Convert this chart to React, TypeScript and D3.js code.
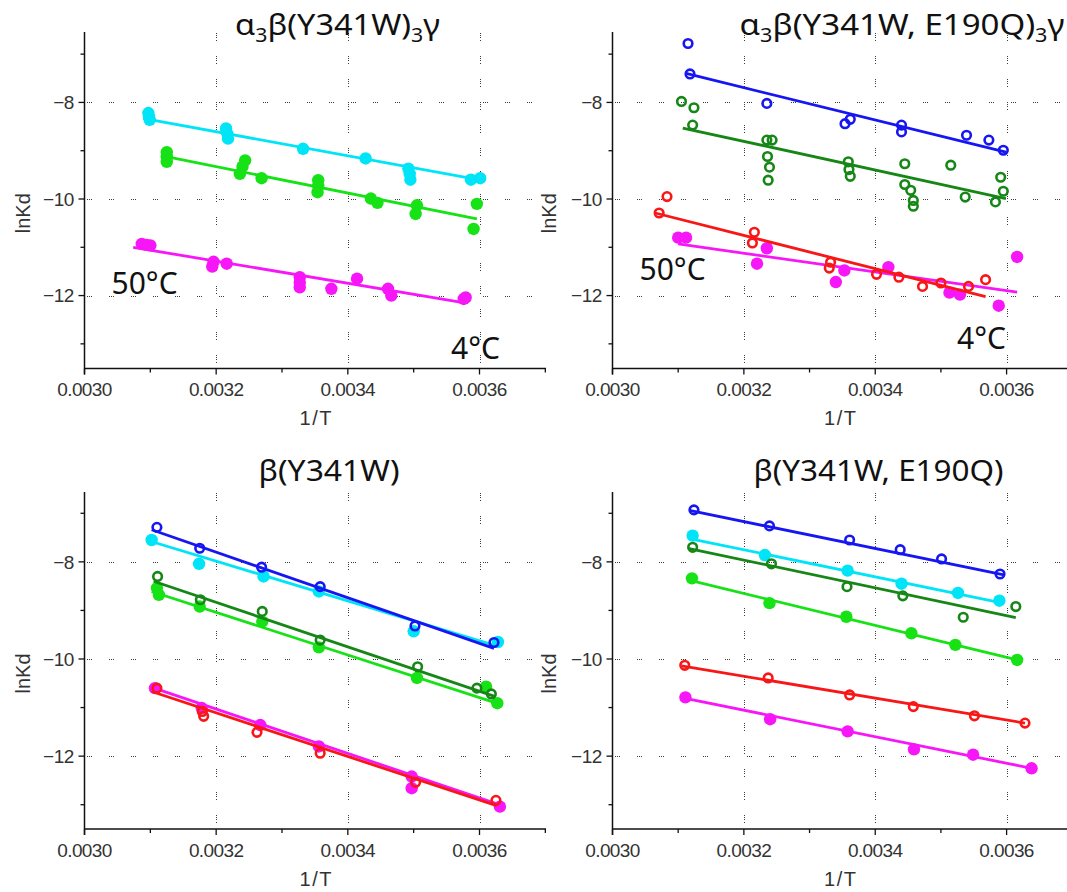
import React from "react";
import * as d3 from "d3";

type Pt = [number, number];

// ---------- axis ticks ----------
const xTicksMajor = [0.003, 0.0032, 0.0034, 0.0036];
const xTickLabels = ["0.0030", "0.0032", "0.0034", "0.0036"];
const xTicksMinor = [0.0031, 0.0033, 0.0035, 0.0037];
const yTicksMajor = [-8, -10, -12];
const yTickLabels = ["\u22128", "\u221210", "\u221212"];
const yTicksMinor = [-7, -9, -11, -13];
const xGrid = [0.0032, 0.0034, 0.0036];
const yGrid = [-8, -10, -12];
const xDomain: Pt = [0.003, 0.0036];
const yDomain: Pt = [-13.5, -6.5];

// ---------- panel 1: a3b(Y341W)3g ----------
const p1Cyan: Pt[] = [[0.003097, -8.22], [0.003098, -8.3], [0.003099, -8.36], [0.003215, -8.54], [0.003217, -8.65], [0.003218, -8.75], [0.003332, -8.96], [0.003427, -9.16], [0.003492, -9.37], [0.003494, -9.48], [0.003495, -9.6], [0.003587, -9.6], [0.003601, -9.57]];
const p1CyanFit: Pt[] = [[0.003089, -8.33], [0.003602, -9.61]];
const p1Green: Pt[] = [[0.003125, -9.03], [0.003125, -9.13], [0.003125, -9.23], [0.003244, -9.2], [0.00324, -9.33], [0.003236, -9.48], [0.003269, -9.57], [0.003355, -9.61], [0.003355, -9.73], [0.003354, -9.86], [0.003435, -9.99], [0.003445, -10.08], [0.003505, -10.13], [0.003503, -10.31], [0.003596, -10.1], [0.003591, -10.62]];
const p1GreenFit: Pt[] = [[0.00313, -9.14], [0.003596, -10.41]];
const p1Magenta: Pt[] = [[0.003087, -10.93], [0.003094, -10.95], [0.0031, -10.96], [0.003196, -11.3], [0.003194, -11.4], [0.003216, -11.34], [0.003327, -11.62], [0.003327, -11.73], [0.003327, -11.83], [0.003375, -11.86], [0.003414, -11.65], [0.003461, -11.86], [0.003466, -12.0], [0.003576, -12.07], [0.003579, -12.04]];
const p1MagentaFit: Pt[] = [[0.003074, -11.0], [0.003573, -12.14]];

// ---------- panel 2: a3b(Y341W, E190Q)3g ----------
const p2Blue: Pt[] = [[0.003115, -6.78], [0.003118, -7.41], [0.003235, -8.02], [0.003354, -8.44], [0.003362, -8.35], [0.00344, -8.47], [0.00344, -8.61], [0.003539, -8.68], [0.003573, -8.78], [0.003595, -8.99]];
const p2BlueFit: Pt[] = [[0.003112, -7.4], [0.003599, -9.03]];
const p2DarkGreen: Pt[] = [[0.003105, -7.98], [0.003124, -8.11], [0.003122, -8.47], [0.003235, -8.78], [0.003243, -8.78], [0.003236, -9.12], [0.003239, -9.34], [0.003237, -9.61], [0.003359, -9.23], [0.00336, -9.39], [0.003362, -9.53], [0.003445, -9.27], [0.003445, -9.7], [0.003454, -9.82], [0.003458, -10.03], [0.003458, -10.15], [0.003515, -9.3], [0.003537, -9.96], [0.003583, -10.06], [0.003591, -9.55], [0.003595, -9.84]];
const p2DarkGreenFit: Pt[] = [[0.003107, -8.53], [0.003599, -9.99]];
const p2Red: Pt[] = [[0.003083, -9.95], [0.003071, -10.29], [0.003216, -10.69], [0.003213, -10.91], [0.003332, -11.31], [0.00333, -11.43], [0.003402, -11.56], [0.003436, -11.62], [0.003472, -11.81], [0.0035, -11.74], [0.003542, -11.81], [0.003568, -11.67]];
const p2RedFit: Pt[] = [[0.003065, -10.29], [0.003568, -12.02]];
const p2Magenta: Pt[] = [[0.0031, -10.8], [0.003112, -10.8], [0.00322, -11.34], [0.003235, -11.02], [0.00334, -11.72], [0.003353, -11.48], [0.00342, -11.41], [0.003513, -11.94], [0.003529, -11.98], [0.003588, -12.21], [0.003616, -11.2]];
const p2MagentaFit: Pt[] = [[0.0031, -10.93], [0.003616, -11.93]];

// ---------- panel 3: b(Y341W) ----------
const p3Cyan: Pt[] = [[0.003102, -7.55], [0.003174, -8.04], [0.003272, -8.3], [0.003356, -8.61], [0.0035, -9.43], [0.003628, -9.65]];
const p3CyanFit: Pt[] = [[0.003094, -7.55], [0.003628, -9.74]];
const p3Blue: Pt[] = [[0.00311, -7.29], [0.003175, -7.72], [0.003269, -8.11], [0.003358, -8.51], [0.003502, -9.32], [0.003622, -9.66]];
const p3BlueFit: Pt[] = [[0.003102, -7.34], [0.003622, -9.78]];
const p3Green: Pt[] = [[0.00311, -8.54], [0.003113, -8.68], [0.003175, -8.92], [0.00327, -9.23], [0.003356, -9.76], [0.003505, -10.39], [0.00361, -10.57], [0.003627, -10.91]];
const p3GreenFit: Pt[] = [[0.003102, -8.61], [0.003626, -10.91]];
const p3DarkGreen: Pt[] = [[0.003111, -8.3], [0.003176, -8.78], [0.00327, -9.02], [0.003358, -9.61], [0.003506, -10.16], [0.003596, -10.6], [0.003618, -10.72]];
const p3DarkGreenFit: Pt[] = [[0.003105, -8.4], [0.003623, -10.77]];
const p3Magenta: Pt[] = [[0.003107, -10.6], [0.003178, -11.01], [0.003267, -11.36], [0.003356, -11.8], [0.003497, -12.42], [0.003497, -12.66], [0.003631, -13.04]];
const p3MagentaFit: Pt[] = [[0.003099, -10.57], [0.003631, -13.0]];
const p3Red: Pt[] = [[0.00311, -10.6], [0.003181, -11.18], [0.003179, -11.08], [0.003262, -11.51], [0.003358, -11.94], [0.003503, -12.54], [0.003625, -12.91]];
const p3RedFit: Pt[] = [[0.003102, -10.67], [0.003626, -13.02]];

// ---------- panel 4: b(Y341W, E190Q) ----------
const p4Blue: Pt[] = [[0.003124, -6.93], [0.003239, -7.26], [0.003361, -7.55], [0.003438, -7.75], [0.003501, -7.94], [0.00359, -8.25]];
const p4BlueFit: Pt[] = [[0.003117, -6.94], [0.003596, -8.27]];
const p4Cyan: Pt[] = [[0.003122, -7.46], [0.003232, -7.86], [0.003358, -8.18], [0.00344, -8.45], [0.003526, -8.64], [0.003589, -8.8]];
const p4CyanFit: Pt[] = [[0.003117, -7.52], [0.003594, -8.85]];
const p4DarkGreen: Pt[] = [[0.003122, -7.7], [0.003242, -8.04], [0.003357, -8.51], [0.003442, -8.7], [0.003534, -9.14], [0.003614, -8.92]];
const p4DarkGreenFit: Pt[] = [[0.003115, -7.72], [0.003614, -9.15]];
const p4Green: Pt[] = [[0.003121, -8.34], [0.003239, -8.85], [0.003356, -9.13], [0.003455, -9.47], [0.003522, -9.71], [0.003616, -10.02]];
const p4GreenFit: Pt[] = [[0.003115, -8.37], [0.003616, -10.02]];
const p4Red: Pt[] = [[0.00311, -10.13], [0.003237, -10.39], [0.003361, -10.74], [0.003458, -10.98], [0.003551, -11.17], [0.003628, -11.32]];
const p4RedFit: Pt[] = [[0.003105, -10.14], [0.003628, -11.32]];
const p4Magenta: Pt[] = [[0.003111, -10.79], [0.00324, -11.24], [0.003358, -11.49], [0.003459, -11.86], [0.003549, -11.97], [0.003638, -12.25]];
const p4MagentaFit: Pt[] = [[0.003111, -10.81], [0.003638, -12.25]];

// ---------- titles ----------
const title1: [string, boolean][] = [["\u03b1", false], ["3", true], ["\u03b2(Y341W)", false], ["3", true], ["\u03b3", false]];
const title2: [string, boolean][] = [["\u03b1", false], ["3", true], ["\u03b2(Y341W, E190Q)", false], ["3", true], ["\u03b3", false]];
const title3: [string, boolean][] = [["\u03b2(Y341W)", false]];
const title4: [string, boolean][] = [["\u03b2(Y341W, E190Q)", false]];

const C = {
  cyan: "#00e4f8",
  green: "#16e216",
  magenta: "#f716f7",
  blue: "#1616f2",
  darkGreen: "#168716",
  red: "#f81616",
};

type Series = { pts: Pt[]; fit: Pt[]; color: string; filled: boolean };

type Panel = {
  title: [string, boolean][];
  titleX: number;
  titleY: number;
  titleW: number;
  left: number;
  x36: number;
  right: number;
  top: number;
  bottom: number;
  yRange: Pt;
  labelX: number;
  series: Series[];
  hot?: { x: number; y: number };
  cold?: { x: number; y: number };
};

const panels: Panel[] = [
  {
    title: title1, titleX: 337.5, titleY: 34.5, titleW: 205,
    left: 84.5, x36: 479.5, right: 546, top: 32, bottom: 368.5, yRange: [368, 30], labelX: 22.5,
    series: [
      { pts: p1Cyan, fit: p1CyanFit, color: C.cyan, filled: true },
      { pts: p1Green, fit: p1GreenFit, color: C.green, filled: true },
      { pts: p1Magenta, fit: p1MagentaFit, color: C.magenta, filled: true },
    ],
    hot: { x: 111.5, y: 293.5 },
    cold: { x: 500, y: 358.5 },
  },
  {
    title: title2, titleX: 902, titleY: 34.5, titleW: 325,
    left: 612.5, x36: 1006.6, right: 1067, top: 32, bottom: 368.5, yRange: [368, 30], labelX: 549,
    series: [
      { pts: p2Blue, fit: p2BlueFit, color: C.blue, filled: false },
      { pts: p2DarkGreen, fit: p2DarkGreenFit, color: C.darkGreen, filled: false },
      { pts: p2Magenta, fit: p2MagentaFit, color: C.magenta, filled: true },
      { pts: p2Red, fit: p2RedFit, color: C.red, filled: false },
    ],
    hot: { x: 639.5, y: 280 },
    cold: { x: 1006, y: 348.5 },
  },
  {
    title: title3, titleX: 329, titleY: 481, titleW: 141,
    left: 84.5, x36: 479.5, right: 546, top: 492, bottom: 829, yRange: [829, 489], labelX: 22.5,
    series: [
      { pts: p3Cyan, fit: p3CyanFit, color: C.cyan, filled: true },
      { pts: p3Blue, fit: p3BlueFit, color: C.blue, filled: false },
      { pts: p3Green, fit: p3GreenFit, color: C.green, filled: true },
      { pts: p3DarkGreen, fit: p3DarkGreenFit, color: C.darkGreen, filled: false },
      { pts: p3Magenta, fit: p3MagentaFit, color: C.magenta, filled: true },
      { pts: p3Red, fit: p3RedFit, color: C.red, filled: false },
    ],
  },
  {
    title: title4, titleX: 878.5, titleY: 481, titleW: 250,
    left: 612.5, x36: 1006.6, right: 1067, top: 492, bottom: 829, yRange: [829, 489], labelX: 549,
    series: [
      { pts: p4Blue, fit: p4BlueFit, color: C.blue, filled: false },
      { pts: p4Cyan, fit: p4CyanFit, color: C.cyan, filled: true },
      { pts: p4DarkGreen, fit: p4DarkGreenFit, color: C.darkGreen, filled: false },
      { pts: p4Green, fit: p4GreenFit, color: C.green, filled: true },
      { pts: p4Red, fit: p4RedFit, color: C.red, filled: false },
      { pts: p4Magenta, fit: p4MagentaFit, color: C.magenta, filled: true },
    ],
  },
];

const TICK_FONT = "'Liberation Sans', Arial, sans-serif";
const TITLE_FONT = "'Noto Sans', 'Open Sans', sans-serif";
const GRID_H = "1 1.2 1 1.2 1 16.6";
const GRID_V = "1 1.2 1 1.2 1 1.2 1 15.4";

function PanelView({ p }: { p: Panel }) {
  const x = d3.scaleLinear().domain(xDomain).range([p.left, p.x36]);
  const y = d3.scaleLinear().domain(yDomain).range(p.yRange);
  const line = d3.line<Pt>().x((d) => x(d[0])).y((d) => y(d[1]));
  const midX = (p.left + p.right) / 2;
  const midY = (p.top + p.bottom) / 2 + 13;

  return (
    <g>
      {/* gridlines */}
      {yGrid.map((v) => (
        <line key={"gy" + v} x1={p.left + 2} x2={p.right - 4} y1={Math.round(y(v)) + 0.5} y2={Math.round(y(v)) + 0.5}
          stroke="#3a3a3a" strokeWidth={1} strokeDasharray={GRID_H} shapeRendering="crispEdges" />
      ))}
      {xGrid.map((v) => (
        <line key={"gx" + v} x1={Math.round(x(v)) + 0.5} x2={Math.round(x(v)) + 0.5} y1={p.top + 1} y2={p.bottom - 2}
          stroke="#3a3a3a" strokeWidth={1} strokeDasharray={GRID_V} shapeRendering="crispEdges" />
      ))}

      {/* axes */}
      <line x1={p.left} x2={p.left} y1={p.top} y2={p.bottom + 6} stroke="#111" strokeWidth={1.5} />
      <line x1={p.left} x2={p.right} y1={p.bottom} y2={p.bottom} stroke="#111" strokeWidth={1.5} />
      {xTicksMajor.map((v) => (
        <line key={"xt" + v} x1={x(v)} x2={x(v)} y1={p.bottom} y2={p.bottom + 6} stroke="#111" strokeWidth={1.3} />
      ))}
      {xTicksMinor.filter((v) => x(v) <= p.right).map((v) => (
        <line key={"xm" + v} x1={x(v)} x2={x(v)} y1={p.bottom} y2={p.bottom + 4} stroke="#111" strokeWidth={1.3} />
      ))}
      {yTicksMajor.map((v) => (
        <line key={"yt" + v} x1={p.left - 6} x2={p.left} y1={y(v)} y2={y(v)} stroke="#111" strokeWidth={1.3} />
      ))}
      {yTicksMinor.map((v) => (
        <line key={"ym" + v} x1={p.left - 4} x2={p.left} y1={y(v)} y2={y(v)} stroke="#111" strokeWidth={1.3} />
      ))}
      {xTicksMajor.map((v, i) => (
        <text key={"xl" + v} x={x(v)} y={p.bottom + 27.5} textAnchor="middle" fontFamily={TICK_FONT}
          fontSize={19} letterSpacing={-0.6} fill="#333">{xTickLabels[i]}</text>
      ))}
      {yTicksMajor.map((v, i) => (
        <text key={"yl" + v} x={p.left - 10.5} y={y(v) + 6.8} textAnchor="end" fontFamily={TICK_FONT}
          fontSize={19} letterSpacing={-0.4} fill="#333">{yTickLabels[i]}</text>
      ))}
      <text x={midX + 1} y={p.bottom + 56.5} textAnchor="middle" fontFamily={TICK_FONT} fontSize={20}
        letterSpacing={1.5} fill="#333">1/T</text>
      <text transform={`translate(${p.labelX + 7},${midY}) rotate(-90)`} textAnchor="middle" fontFamily={TICK_FONT}
        fontSize={20} fill="#333">lnKd</text>

      {/* title */}
      <text x={p.titleX} y={p.titleY} textAnchor="middle" fontFamily={TITLE_FONT} fontSize={29} fill="#111"
        textLength={p.titleW} lengthAdjust="spacingAndGlyphs">
        {p.title.map(([t, sub], i) => (
          <tspan key={i} fontSize={sub ? 19 : undefined}
            dy={sub ? 7 : i > 0 && p.title[i - 1][1] ? -7 : 0}>{t}</tspan>
        ))}
      </text>

      {/* temperature labels */}
      {p.hot && (
        <text x={p.hot.x} y={p.hot.y} fontFamily={TITLE_FONT} fontSize={30} fill="#111">50°C</text>
      )}
      {p.cold && (
        <text x={p.cold.x} y={p.cold.y} textAnchor="end" fontFamily={TITLE_FONT} fontSize={30} fill="#111">4°C</text>
      )}

      {/* data */}
      {p.series.map((s, si) => (
        <g key={"s" + si}>
          <path d={line(s.fit) || ""} fill="none" stroke={s.color} strokeWidth={2.8} />
          {s.pts.map((d, i) =>
            s.filled ? (
              <circle key={i} cx={x(d[0])} cy={y(d[1])} r={6.2} fill={s.color} />
            ) : (
              <circle key={i} cx={x(d[0])} cy={y(d[1])} r={4.3} fill="none" stroke={s.color} strokeWidth={2.6} />
            )
          )}
        </g>
      ))}
    </g>
  );
}

export default function App() {
  return (
    <svg width={1067} height={892} viewBox="0 0 1067 892"
      style={{ position: "absolute", left: 0, top: 0, background: "#fff", display: "block" }}>
      <rect x={0} y={0} width={1067} height={892} fill="#fff" />
      {panels.map((p, i) => (
        <PanelView key={i} p={p} />
      ))}
    </svg>
  );
}
